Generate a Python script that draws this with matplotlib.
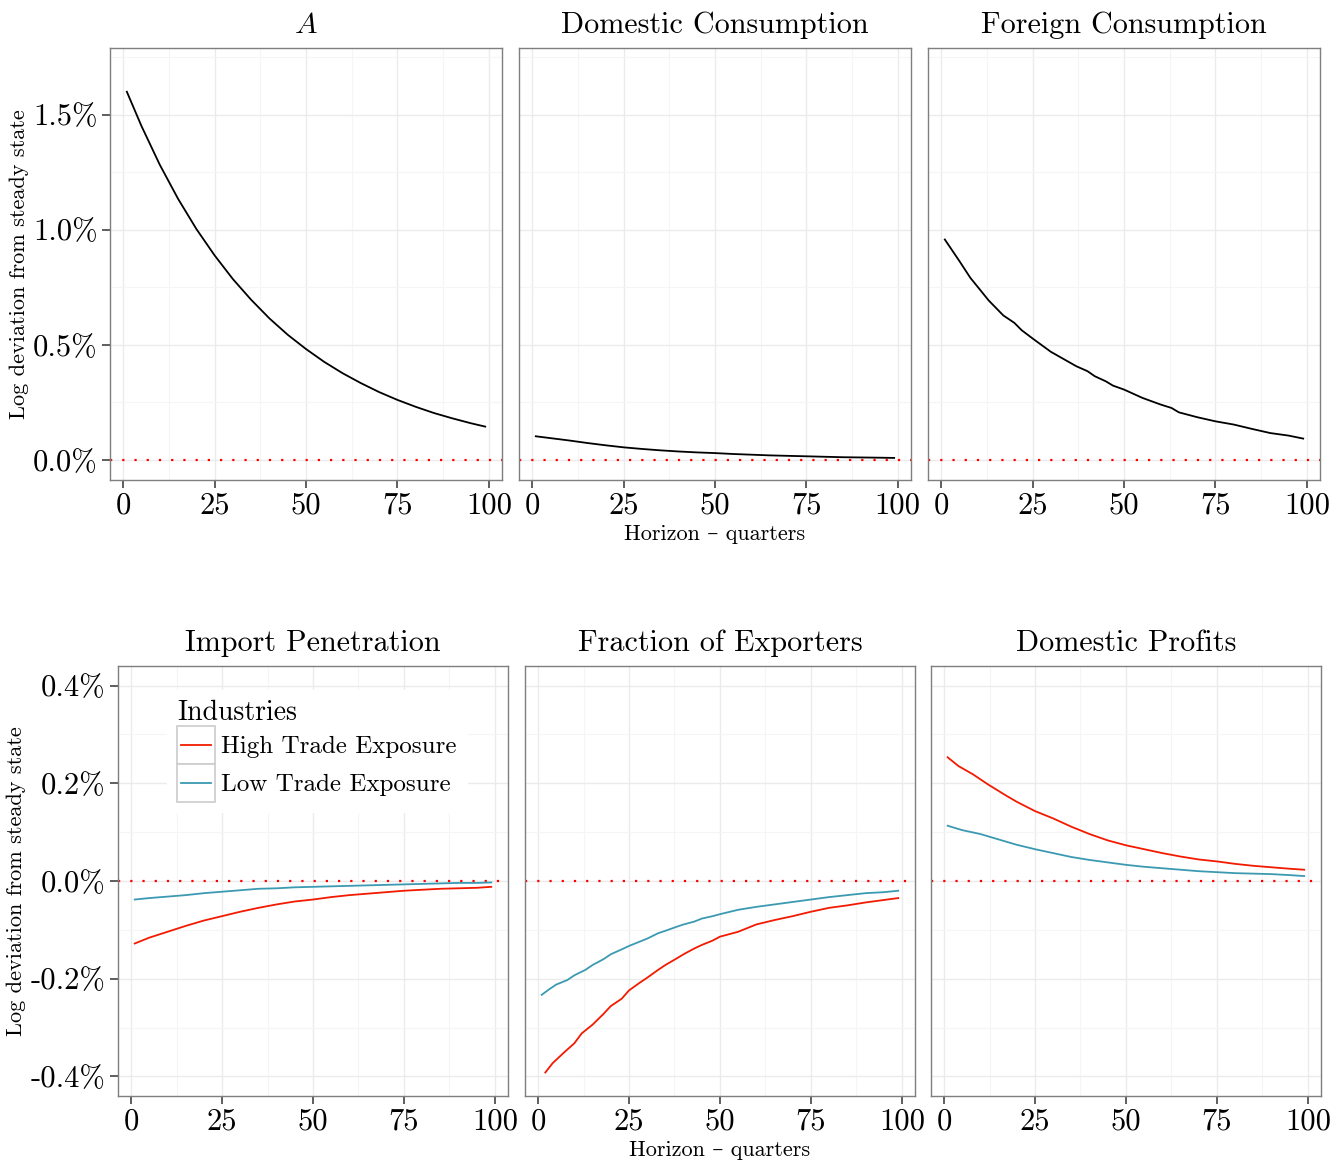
import numpy as np
import matplotlib
matplotlib.use("Agg")
import matplotlib.pyplot as plt
from matplotlib.ticker import MultipleLocator
from matplotlib.patches import Rectangle
from matplotlib.lines import Line2D
from matplotlib.legend_handler import HandlerTuple, HandlerBase

plt.rcParams['font.family'] = ['cmr10', 'DejaVu Serif']
plt.rcParams['mathtext.fontset'] = 'cm'
plt.rcParams['axes.formatter.use_mathtext'] = True
plt.rcParams['axes.unicode_minus'] = False

# horizon (quarters) at which values were read
hx = [1, 5, 10, 15, 20, 25, 30, 35, 40, 45, 50, 55, 60, 65, 70, 75, 80, 85, 90, 95, 99]

# top row, log deviation in %
tfp = [1.600, 1.451, 1.283, 1.135, 1.004, 0.889, 0.786, 0.696, 0.615, 0.544, 0.482,
       0.426, 0.377, 0.334, 0.295, 0.261, 0.231, 0.204, 0.181, 0.160, 0.145]
dom_cons = [0.103, 0.095, 0.085, 0.074, 0.064, 0.055, 0.048, 0.042, 0.037, 0.033, 0.030,
            0.026, 0.023, 0.020, 0.018, 0.016, 0.014, 0.012, 0.011, 0.010, 0.009]
fx = [1, 5, 8, 10, 13, 17, 20, 22, 25, 30, 35, 37, 40, 42, 45, 47, 50, 55, 60, 63, 65,
      70, 75, 80, 85, 90, 95, 99]
for_cons = [0.958, 0.864, 0.791, 0.752, 0.693, 0.628, 0.596, 0.564, 0.528, 0.470, 0.425,
            0.407, 0.386, 0.364, 0.342, 0.323, 0.306, 0.270, 0.241, 0.226, 0.207, 0.186,
            0.168, 0.154, 0.135, 0.117, 0.106, 0.093]

# bottom row
imp_high = [-0.128, -0.116, -0.104, -0.092, -0.081, -0.072, -0.063, -0.055, -0.048, -0.042,
            -0.038, -0.033, -0.029, -0.026, -0.023, -0.020, -0.018, -0.016, -0.015, -0.014, -0.012]
imp_low = [-0.038, -0.035, -0.032, -0.029, -0.025, -0.022, -0.019, -0.016, -0.015, -0.013,
           -0.012, -0.011, -0.010, -0.009, -0.008, -0.007, -0.006, -0.005, -0.004, -0.004, -0.003]

ex_low_x = [1, 3, 5, 8, 10, 13, 15, 18, 20, 23, 25, 28, 30, 33, 35, 38, 40, 43, 45, 48, 50,
            55, 60, 65, 70, 75, 80, 85, 90, 95, 99]
ex_low = [-0.233, -0.222, -0.212, -0.203, -0.193, -0.182, -0.172, -0.160, -0.150, -0.140,
          -0.133, -0.124, -0.118, -0.107, -0.102, -0.094, -0.089, -0.083, -0.077, -0.072,
          -0.068, -0.059, -0.053, -0.048, -0.043, -0.038, -0.033, -0.029, -0.025, -0.023, -0.020]
ex_high_x = [2, 4, 7, 10, 12, 15, 18, 20, 23, 25, 28, 30, 33, 35, 38, 40, 43, 45, 48, 50,
             55, 60, 65, 70, 75, 80, 85, 90, 95, 99]
ex_high = [-0.392, -0.373, -0.352, -0.332, -0.312, -0.294, -0.272, -0.256, -0.241, -0.224,
           -0.208, -0.198, -0.182, -0.172, -0.159, -0.150, -0.138, -0.131, -0.122, -0.114,
           -0.104, -0.089, -0.080, -0.072, -0.063, -0.055, -0.050, -0.044, -0.039, -0.035]

prof_x = [1, 4, 8, 12, 17, 20, 25, 30, 35, 40, 45, 50, 55, 60, 65, 70, 75, 80, 85, 90, 95, 99]
prof_high = [0.253, 0.235, 0.218, 0.198, 0.175, 0.162, 0.143, 0.128, 0.111, 0.096, 0.083,
             0.073, 0.065, 0.057, 0.050, 0.044, 0.040, 0.035, 0.031, 0.028, 0.025, 0.023]
prof_low = [0.113, 0.104, 0.096, 0.085, 0.074, 0.065, 0.057, 0.049, 0.043, 0.038, 0.033,
            0.029, 0.026, 0.023, 0.020, 0.018, 0.016, 0.015, 0.014, 0.012, 0.010]

RED = '#F21A00'
TEAL = '#3B9AB2'


class CenteredLine(HandlerBase):
    # legend key line drawn through the middle of the key box
    def create_artists(self, legend, orig_handle, xdescent, ydescent, width, height,
                       fontsize, trans):
        y = height / 2 - ydescent
        x0 = -xdescent + 0.1 * width
        x1 = -xdescent + 0.9 * width
        line = Line2D([x0, x1], [y, y], color=orig_handle.get_color(),
                      linewidth=orig_handle.get_linewidth())
        line.set_transform(trans)
        return [line]


fig = plt.figure(figsize=(13.32, 11.6), dpi=100)

top_rects = [[0.0826, 0.5862, 0.2943, 0.3724],
             [0.3896, 0.5862, 0.2943, 0.3724],
             [0.6967, 0.5862, 0.2943, 0.3724]]
bot_rects = [[0.0886, 0.0552, 0.2928, 0.3707],
             [0.3941, 0.0552, 0.2928, 0.3707],
             [0.6989, 0.0552, 0.2928, 0.3707]]


def style(ax, ylim, ymin, yticks, ylabels, show_y):
    ax.set_xlim(-3.6, 103.6)
    ax.set_ylim(*ylim)
    ax.xaxis.set_major_locator(MultipleLocator(25))
    ax.xaxis.set_minor_locator(MultipleLocator(12.5))
    ax.yaxis.set_minor_locator(MultipleLocator(ymin))
    ax.set_yticks(yticks)
    ax.grid(True, which='major', color='#EBEBEB', linewidth=1.0)
    ax.grid(True, which='minor', color='#F5F5F5', linewidth=0.8)
    ax.set_axisbelow(True)
    for s in ax.spines.values():
        s.set_color('#7F7F7F')
        s.set_linewidth(1.0)
    ax.tick_params(which='major', length=6, width=1.1, color='#333333',
                   labelsize=22, pad=3)
    ax.tick_params(which='minor', length=0)
    ax.set_xticks([0, 25, 50, 75, 100])
    ax.set_xticklabels(['0', '25', '50', '75', '100'])
    if show_y:
        ax.set_yticklabels(ylabels)
        ax.set_ylabel('Log deviation from steady state', fontsize=16, labelpad=3)
    else:
        ax.tick_params(axis='y', which='major', length=0, labelleft=False)
    ax.axhline(0, color='red', linestyle=(0, (1, 4.5)), linewidth=1.6, zorder=1)


top_titles = ['$A$', 'Domestic Consumption', 'Foreign Consumption']
top_data = [(hx, tfp), (hx, dom_cons), (fx, for_cons)]
for i in range(3):
    ax = fig.add_axes(top_rects[i])
    style(ax, (-0.087, 1.79), 0.25, [0.0, 0.5, 1.0, 1.5],
          ['0.0%', '0.5%', '1.0%', '1.5%'], i == 0)
    xs, ys = top_data[i]
    ax.plot(xs, ys, color='black', linewidth=1.3, zorder=3)
    ax.set_title(top_titles[i], fontsize=21.7, pad=11)
    if i == 1:
        ax.set_xlabel('Horizon – quarters', fontsize=16, labelpad=3)

bot_titles = ['Import Penetration', 'Fraction of Exporters', 'Domestic Profits']
bot_data = [((hx, imp_high), (hx, imp_low)),
            ((ex_high_x, ex_high), (ex_low_x, ex_low)),
            ((prof_x, prof_high), (hx, prof_low))]
for i in range(3):
    ax = fig.add_axes(bot_rects[i])
    style(ax, (-0.44, 0.44), 0.1, [-0.4, -0.2, 0.0, 0.2, 0.4],
          ['-0.4%', '-0.2%', '0.0%', '0.2%', '0.4%'], i == 0)
    (hx_, hy_), (lx_, ly_) = bot_data[i]
    ax.plot(hx_, hy_, color=RED, linewidth=1.3, zorder=3)
    ax.plot(lx_, ly_, color=TEAL, linewidth=1.3, zorder=3)
    ax.set_title(bot_titles[i], fontsize=21.7, pad=11)
    if i == 1:
        ax.set_xlabel('Horizon – quarters', fontsize=16, labelpad=3)
    if i == 0:
        box = Rectangle((0, 0), 1, 1, facecolor='white', edgecolor='#CCCCCC', linewidth=1.2)
        box2 = Rectangle((0, 0), 1, 1, facecolor='white', edgecolor='#CCCCCC', linewidth=1.2)
        h1 = (box, Line2D([], [], color=RED, linewidth=1.3))
        h2 = (box2, Line2D([], [], color=TEAL, linewidth=1.3))
        leg = ax.legend([h1, h2], ['High Trade Exposure', 'Low Trade Exposure'],
                        handler_map={tuple: HandlerTuple(ndivide=1, pad=0),
                                     Line2D: CenteredLine()},
                        title='Industries', loc='upper left',
                        bbox_to_anchor=(0.125, 0.945), fontsize=18, title_fontsize=20,
                        frameon=True, fancybox=False, facecolor='white', edgecolor='white',
                        framealpha=1.0, handlelength=1.52, handleheight=1.96,
                        labelspacing=0.0, handletextpad=0.25, borderpad=0.4,
                        borderaxespad=0)
        leg._legend_box.align = 'left'
        leg.set_zorder(5)

fig.savefig('out.png', dpi=100)
